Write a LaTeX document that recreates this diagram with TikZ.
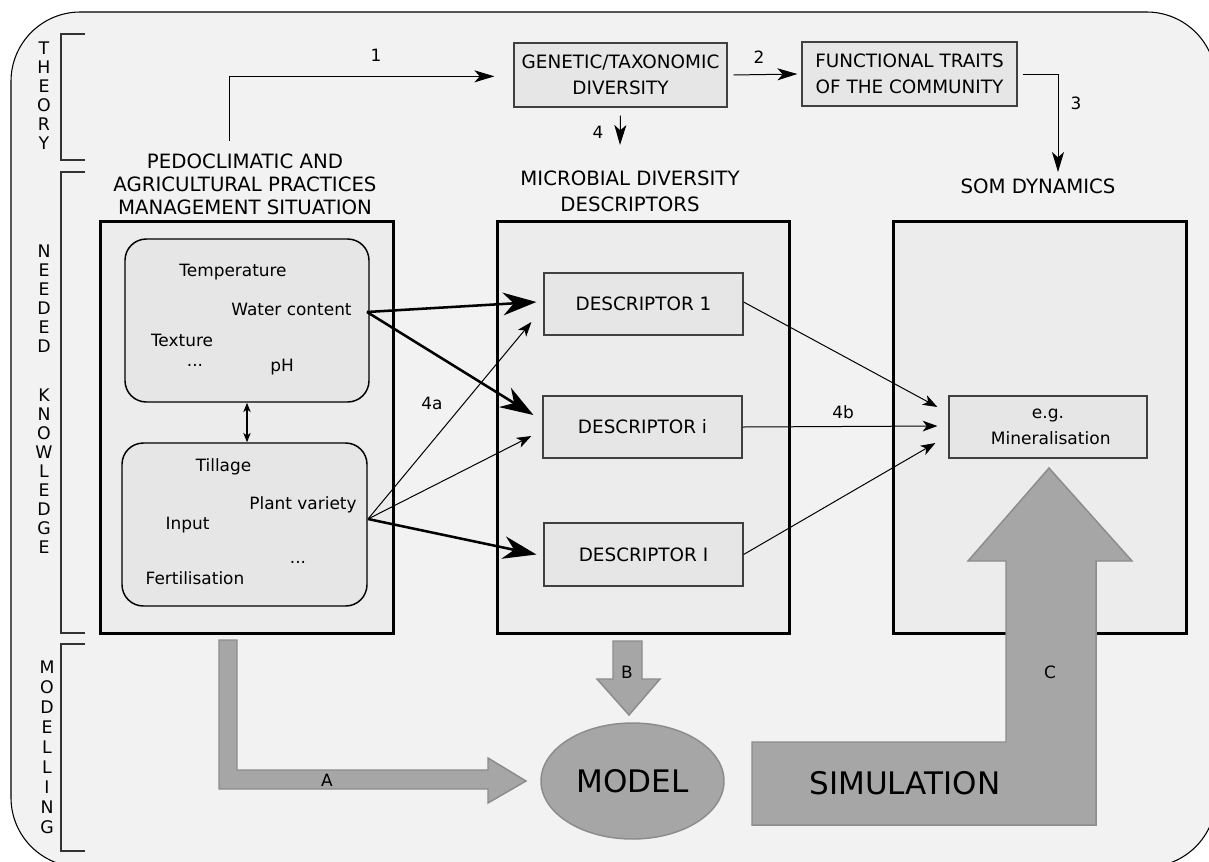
\documentclass[tikz,border=0pt]{standalone}
\usepackage{fontspec}
\setmainfont{DejaVu Sans}
\usetikzlibrary{arrows.meta,calc,shapes.geometric}
\definecolor{bgc}{HTML}{F2F2F2}
\definecolor{bigc}{HTML}{ECECEC}
\definecolor{boxc}{HTML}{E6E6E6}
\definecolor{grayarrow}{HTML}{A6A6A6}
\definecolor{grayedge}{HTML}{8C8C8C}
\definecolor{bracketc}{HTML}{333333}
\definecolor{boxedge}{HTML}{404040}
\newcommand\hdfont{\fontsize{14.8}{17.25}\selectfont}
\newcommand\bxfont{\fontsize{13.8}{19.5}\selectfont}
\newcommand\txfont{\fontsize{12.7}{15}\selectfont}
\newcommand\bigfont{\fontsize{23.3}{28}\selectfont}
\newcommand\vtfont{\fontsize{13}{14.25}\selectfont}
\begin{document}
\begin{tikzpicture}[x=0.75pt,y=-0.75pt,
  bigbox/.style={draw=black, line width=2.25pt, fill=bigc, inner sep=0pt},
  roundbox/.style={draw=black, line width=1.1pt, fill=boxc, rounded corners=16pt, inner sep=0pt},
  plainbox/.style={draw=boxedge, line width=0.9pt, fill=boxc, inner sep=0pt, align=center},
  txt/.style={font=\txfont, inner sep=0pt},
  hd/.style={font=\hdfont, inner sep=0pt, align=center},
  vt/.style={font=\vtfont, inner sep=0pt, align=center},
  bracket/.style={draw=bracketc, line width=1pt},
  blockarrow/.style={fill=grayarrow, draw=grayedge, line width=1.1pt},
  thinarrow/.style={draw=black, line width=0.75pt, -{Stealth[length=11pt,width=8pt,inset=3pt]}},
  thickarrow/.style={draw=black, line width=1.9pt, -{Stealth[length=25pt,width=17pt,inset=8pt]}},
  midarrow/.style={draw=black, line width=0.75pt, -{Stealth[length=15pt,width=9pt,inset=4pt]}},
  dblarrow/.style={draw=black, line width=1.1pt, {Stealth[length=7pt,width=5.5pt,inset=2pt]}-{Stealth[length=7pt,width=5.5pt,inset=2pt]}}
]
\useasboundingbox (0,0) rectangle (1209,861);
\clip (0,0) rectangle (1209,861);
% background
\draw[fill=bgc, draw=black, line width=0.8pt, rounded corners=52pt] (11,12) rectangle (1216,867);

% brackets
\draw[bracket] (85,34) -- (61,34) -- (61,160) -- (85,160);
\draw[bracket] (85,172) -- (61,172) -- (61,633) -- (85,633);
\draw[bracket] (85,644) -- (61,644) -- (61,851) -- (85,851);
\node[vt] (vtheory) at (44,96) {T\\H\\E\\O\\R\\Y};
\node[vt] (vneeded) at (44,298.5) {N\\E\\E\\D\\E\\D};
\node[vt] (vknow) at (44,471.5) {K\\N\\O\\W\\L\\E\\D\\G\\E};
\node[vt, font=\fontsize{13}{15}\selectfont] (vmodel) at (47,747) {M\\O\\D\\E\\L\\L\\I\\N\\G};

% theory boxes
\node[plainbox, minimum width=213*0.75pt, minimum height=64*0.75pt, font=\bxfont] (gen) at (620.5,75) {GENETIC/TAXONOMIC\\DIVERSITY};
\node[plainbox, minimum width=215*0.75pt, minimum height=64*0.75pt, font=\bxfont] (fun) at (909.5,74) {FUNCTIONAL TRAITS\\OF THE COMMUNITY};

% headings
\node[hd] (hpedo) at (245,184) {PEDOCLIMATIC AND\\AGRICULTURAL PRACTICES\\MANAGEMENT SITUATION};
\node[hd, font=\fontsize{14.8}{19.3}\selectfont] (hmicro) at (630,191) {MICROBIAL DIVERSITY\\DESCRIPTORS};
\node[hd] (hsom) at (1038,186) {SOM DYNAMICS};

% big boxes
\node[bigbox, minimum width=293*0.75pt, minimum height=412*0.75pt] (lbox) at (246.5,427) {};
\node[bigbox, minimum width=292*0.75pt, minimum height=412*0.75pt] (mbox) at (643,427) {};
\node[bigbox, minimum width=293*0.75pt, minimum height=412*0.75pt] (rbox) at (1039.5,427) {};

% rounded boxes
\node[roundbox, minimum width=244*0.75pt, minimum height=163*0.75pt] (tb) at (247,320.5) {};
\node[roundbox, minimum width=245*0.75pt, minimum height=163*0.75pt] (bb) at (244.5,524.5) {};
\node[txt] (ttemp) at (233,272) {Temperature};
\node[txt] (twater) at (291.5,309) {Water content};
\node[txt] (ttex) at (182,340) {Texture};
\node[txt] (tdots1) at (195,365) {...};
\node[txt] (tph) at (282,367) {pH};
\node[txt] (ttill) at (223.5,467) {Tillage};
\node[txt] (tplant) at (303,505) {Plant variety};
\node[txt] (tinput) at (187.5,525) {Input};
\node[txt] (tdots2) at (298,562) {...};
\node[txt] (tfert) at (195,578) {Fertilisation};
\draw[dblarrow] (tb.south) -- (tb.south |- bb.north);

% descriptors
\node[plainbox, minimum width=199*0.75pt, minimum height=62*0.75pt, font=\bxfont] (d1) at (643.5,304) {DESCRIPTOR 1};
\node[plainbox, minimum width=199*0.75pt, minimum height=62*0.75pt, font=\bxfont] (di) at (642.5,427) {DESCRIPTOR i};
\node[plainbox, minimum width=199*0.75pt, minimum height=63*0.75pt, font=\bxfont] (dI) at (643.5,554.5) {DESCRIPTOR I};
\node[plainbox, minimum width=198*0.75pt, minimum height=62*0.75pt, font=\fontsize{12.8}{19.5}\selectfont] (mine) at (1048,427) {e.g.\\\ Mineralisation};

% theory arrows
\coordinate (p1) at (229,141);
\draw[midarrow] (p1) |- ([xshift=-14.25pt,yshift=-1pt]gen.west);
\node[txt] (l1) at (376,55) {1};
\draw[midarrow] ([xshift=4.5pt]gen.east) -- ([xshift=-3pt]fun.west);
\node[txt] (l2) at (759,57) {2};
\coordinate (c3) at (1058,172);
\draw[midarrow] ([xshift=3.75pt]fun.east) -| (c3);
\node[txt] (l3) at (1076,103) {3};
\coordinate (c4) at (620,145);
\draw[midarrow] ([yshift=-6pt]gen.south) -- (c4);
\node[txt] (l4) at (598,132) {4};

% 4a arrows
\coordinate (wc) at (367,312);
\coordinate (pv) at (368,519);
\draw[thickarrow] (wc) -- ([xshift=-5.25pt,yshift=1.5pt]d1.west);
\draw[thickarrow] (wc) -- ([xshift=-6.75pt,yshift=9pt]di.west);
\draw[thinarrow] (pv) -- ([xshift=-9pt,yshift=-13.5pt]d1.west);
\draw[thinarrow] (pv) -- ([xshift=-8.25pt,yshift=-6.75pt]di.west);
\draw[thickarrow] (pv) -- ([xshift=-5.25pt]dI.west);
\node[txt] (l4a) at (432,403) {4a};

% 4b arrows
\draw[thinarrow] ([yshift=1.5pt]d1.east) -- ([xshift=-8.25pt,yshift=15pt]mine.west);
\draw[thinarrow] (di.east) -- ([xshift=-8.25pt,yshift=0.75pt]mine.west);
\draw[thinarrow] (dI.east) -- ([xshift=-9.75pt,yshift=-12pt]mine.west);
\node[txt] (l4b) at (843,412) {4b};

% modelling
\draw[blockarrow] (219,640) -- (237,640) -- (237,770) -- (488,770) -- (488,758) -- (526,781) -- (488,803) -- (488,789) -- (219,789) -- cycle;
\node[txt] (la) at (327,780) {A};
\draw[blockarrow] (613,641) -- (642,641) -- (642,679) -- (660,679) -- (629,715) -- (597,679) -- (613,679) -- cycle;
\node[txt] (lb) at (627,672) {B};
\node[ellipse, fill=grayarrow, draw=grayedge, line width=1.1pt, minimum width=183*0.75pt, minimum height=116*0.75pt, inner sep=0pt, font=\bigfont] (model) at (632.5,781) {MODEL};
\draw[blockarrow] (752,825) -- (752,742) -- (1006,742) -- (1006,561) -- (968,561) -- (1049,468) -- (1132,561) -- (1096,561) -- (1096,825) -- cycle;
\node[txt] (lc) at (1050,672) {C};
\node[inner sep=0pt, font=\bigfont] (sim) at (905,783) {SIMULATION};
\end{tikzpicture}
\end{document}
